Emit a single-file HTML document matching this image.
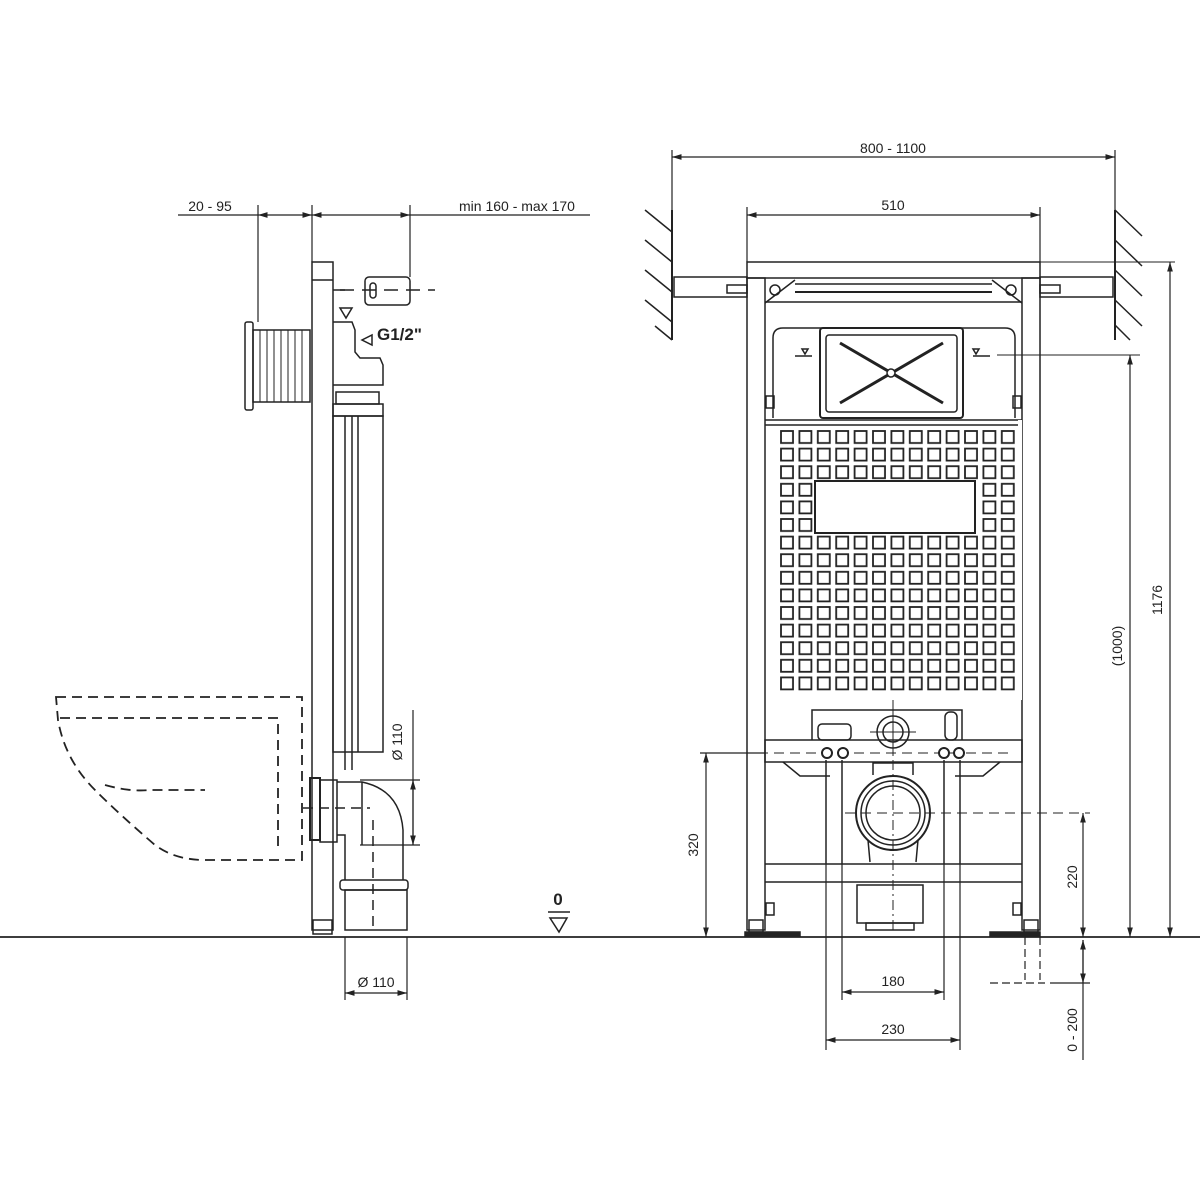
<!DOCTYPE html>
<html><head><meta charset="utf-8"><style>body{margin:0;background:#fff}svg{display:block}</style></head>
<body>
<svg width="1200" height="1200" viewBox="0 0 1200 1200" xmlns="http://www.w3.org/2000/svg" font-family="Liberation Sans, sans-serif" fill="none" stroke="#222" stroke-width="1.5">
<defs>
<pattern id="sq" x="780" y="430" width="18.4" height="17.6" patternUnits="userSpaceOnUse">
<rect x="1" y="1" width="12" height="12" stroke="#222" stroke-width="1.8" fill="none"/>
</pattern>
<marker id="a" viewBox="0 0 10 10" refX="10" refY="5" markerWidth="8" markerHeight="8" orient="auto-start-reverse"><path d="M0,2 L10,5 L0,8" fill="#222" stroke="none"/></marker>
</defs>
<line x1="0" y1="937" x2="1200" y2="937" stroke-width="1.8"/>

<g stroke-width="1.2">
<line x1="258" y1="205" x2="258" y2="322"/><line x1="312" y1="205" x2="312" y2="262"/><line x1="410" y1="205" x2="410" y2="277"/>
<line x1="178" y1="215" x2="258" y2="215"/><line x1="258" y1="215" x2="312" y2="215" marker-start="url(#a)" marker-end="url(#a)"/>
<line x1="312" y1="215" x2="410" y2="215" marker-start="url(#a)" marker-end="url(#a)"/><line x1="410" y1="215" x2="590" y2="215"/>
</g>
<text x="210" y="211" font-size="14" fill="#222" stroke="none" text-anchor="middle">20 - 95</text>
<text x="517" y="211" font-size="14" fill="#222" stroke="none" text-anchor="middle">min 160 - max 170</text>
<rect x="312" y="262" width="21" height="668"/>
<line x1="312" y1="280" x2="333" y2="280"/>
<rect x="313" y="920" width="19" height="14"/>
<line x1="333" y1="290" x2="345" y2="290"/>
<rect x="365" y="277" width="45" height="28" rx="4"/>
<rect x="370" y="283" width="6" height="15" rx="3"/>
<line x1="340" y1="290" x2="435" y2="290" stroke-dasharray="14 8"/>
<path d="M340,308 L352,308 L346,318 Z"/>
<text x="377" y="340" font-size="17" font-weight="bold" fill="#222" stroke="none">G1/2"</text>
<path d="M372,335 L372,345 L362,340 Z"/>
<path d="M333,322 L352,322 L355,330 L355,352 L360,358 L380,358 L383,365 L383,385 L333,385"/>
<rect x="336" y="392" width="43" height="12"/><rect x="333" y="404" width="50" height="12"/>
<rect x="333" y="416" width="50" height="336"/>
<line x1="345" y1="416" x2="345" y2="752"/><line x1="352" y1="416" x2="352" y2="752"/><line x1="358" y1="416" x2="358" y2="752"/>
<line x1="345" y1="752" x2="345" y2="770"/><line x1="352" y1="752" x2="352" y2="770"/>
<rect x="245" y="322" width="8" height="88" rx="2"/>
<rect x="253" y="330" width="57" height="72"/>
<g stroke-width="1"><line x1="260" y1="330" x2="260" y2="402"/><line x1="267" y1="330" x2="267" y2="402"/><line x1="274" y1="330" x2="274" y2="402"/><line x1="281" y1="330" x2="281" y2="402"/><line x1="288" y1="330" x2="288" y2="402"/><line x1="295" y1="330" x2="295" y2="402"/><line x1="302" y1="330" x2="302" y2="402"/></g>
<g stroke-dasharray="10 6" stroke-width="1.8">
<path d="M56,697 L302,697 L302,860 L205,860 Q175,860 155,845 Q120,815 95,790 Q65,760 58,720 Z"/>
<path d="M60,718 L278,718 L278,848"/>
<path d="M105,785 Q130,792 150,790 L205,790"/>
</g>
<rect x="310" y="778" width="10" height="62" stroke-width="2"/>
<rect x="320" y="780" width="17" height="62"/>
<path d="M337,782 L362,782 Q400,790 403,830 L403,880 M337,835 L345,835 L345,880"/>
<line x1="362" y1="782" x2="362" y2="845"/>
<rect x="340" y="880" width="68" height="10" rx="3"/>
<rect x="345" y="890" width="62" height="40"/>
<line x1="303" y1="808" x2="370" y2="808" stroke-dasharray="10 6"/>
<line x1="373" y1="820" x2="373" y2="930" stroke-dasharray="10 6"/>
<g stroke-width="1.2">
<line x1="360" y1="780" x2="420" y2="780"/><line x1="360" y1="845" x2="420" y2="845"/>
<line x1="413" y1="710" x2="413" y2="845"/>
<line x1="413" y1="780" x2="413" y2="845" marker-start="url(#a)" marker-end="url(#a)"/>
<line x1="345" y1="937" x2="345" y2="1000"/><line x1="407" y1="937" x2="407" y2="1000"/>
<line x1="345" y1="993" x2="407" y2="993" marker-start="url(#a)" marker-end="url(#a)"/>
</g>
<text transform="translate(402,742) rotate(-90)" font-size="14" fill="#222" stroke="none" text-anchor="middle">Ø 110</text>
<text x="376" y="987" font-size="14" fill="#222" stroke="none" text-anchor="middle">Ø 110</text>
<text x="558" y="905" font-size="17" font-weight="bold" fill="#222" stroke="none" text-anchor="middle">0</text>
<line x1="548" y1="912" x2="570" y2="912"/>
<path d="M550,918 L567,918 L559,932 Z"/>

<g stroke-width="1.2">
<line x1="672" y1="150" x2="672" y2="275"/><line x1="1115" y1="150" x2="1115" y2="275"/>
<line x1="672" y1="157" x2="1115" y2="157" marker-start="url(#a)" marker-end="url(#a)"/>
<line x1="747" y1="207" x2="747" y2="262"/><line x1="1040" y1="207" x2="1040" y2="262"/>
<line x1="747" y1="215" x2="1040" y2="215" marker-start="url(#a)" marker-end="url(#a)"/>
</g>
<text x="893" y="153" font-size="14" fill="#222" stroke="none" text-anchor="middle">800 - 1100</text>
<text x="893" y="210" font-size="14" fill="#222" stroke="none" text-anchor="middle">510</text>
<line x1="672" y1="210" x2="672" y2="340" stroke-width="2"/>
<line x1="1115" y1="210" x2="1115" y2="340" stroke-width="2"/>
<g stroke-width="1.5">
<line x1="672" y1="232" x2="645" y2="210"/><line x1="672" y1="262" x2="645" y2="240"/><line x1="672" y1="292" x2="645" y2="270"/><line x1="672" y1="322" x2="645" y2="300"/><line x1="672" y1="340" x2="655" y2="326"/>
<line x1="1115" y1="210" x2="1142" y2="236"/><line x1="1115" y1="240" x2="1142" y2="266"/><line x1="1115" y1="270" x2="1142" y2="296"/><line x1="1115" y1="300" x2="1142" y2="326"/><line x1="1115" y1="325" x2="1130" y2="340"/>
</g>
<rect x="674" y="277" width="73" height="20"/><rect x="727" y="285" width="20" height="8"/>
<rect x="1040" y="277" width="73" height="20"/><rect x="1040" y="285" width="20" height="8"/>
<rect x="747" y="262" width="293" height="16"/>
<rect x="747" y="278" width="18" height="652"/><rect x="1022" y="278" width="18" height="652"/>
<rect x="749" y="920" width="14" height="12"/><rect x="1024" y="920" width="14" height="12"/>
<rect x="745" y="932" width="55" height="4" fill="#222"/><rect x="990" y="932" width="50" height="4" fill="#222"/>
<line x1="765" y1="302" x2="1022" y2="302"/>
<path d="M765,303 L795,280 M1022,303 L992,280"/>
<line x1="795" y1="284" x2="992" y2="284"/><line x1="795" y1="292" x2="992" y2="292" stroke-width="2"/>
<circle cx="775" cy="290" r="5"/><circle cx="1011" cy="290" r="5"/>
<line x1="1040" y1="262" x2="1175" y2="262" stroke-width="1"/>
<path d="M773,418 L773,338 Q773,328 783,328 L1005,328 Q1015,328 1015,338 L1015,418"/>
<rect x="820" y="328" width="143" height="90" rx="3" stroke-width="2"/>
<rect x="826" y="335" width="131" height="77" rx="3"/>
<path d="M840,343 L943,403 M943,343 L840,403" stroke-width="3"/>
<circle cx="891" cy="373" r="4" fill="#fff"/>
<path d="M795,356 L812,356 M802,349 L808,349 L805,354 Z"/>
<path d="M973,349 L979,349 L976,354 Z M973,356 L990,356"/>
<line x1="997" y1="355" x2="1140" y2="355" stroke-width="1"/>
<rect x="766" y="396" width="8" height="12"/><rect x="1013" y="396" width="8" height="12"/>
<line x1="765" y1="420" x2="1022" y2="420"/>
<line x1="765" y1="425" x2="1022" y2="425"/>
<rect x="780" y="430" width="240" height="263" fill="url(#sq)" stroke="none"/>
<rect x="1018" y="420" width="4" height="280" fill="#fff" stroke="none"/>
<rect x="813" y="479.5" width="167" height="56" fill="#fff" stroke="none"/>
<rect x="815" y="481" width="160" height="52" stroke-width="2"/>
<path d="M812,740 L812,710 L962,710 L962,740"/>
<rect x="818" y="724" width="33" height="16" rx="4"/>
<rect x="945" y="712" width="12" height="28" rx="5"/>
<circle cx="893" cy="732" r="16"/><circle cx="893" cy="732" r="10"/>
<line x1="870" y1="732" x2="916" y2="732" stroke-width="1"/><line x1="893" y1="705" x2="893" y2="755" stroke-width="1"/>
<rect x="765" y="740" width="257" height="22"/>
<path d="M783,762 L800,776 L830,776 M1000,762 L983,776 L955,776"/>
<line x1="710" y1="753" x2="1010" y2="753" stroke-dasharray="10 6" stroke-width="1"/>
<g fill="#fff" stroke-width="2"><circle cx="827" cy="753" r="5"/><circle cx="843" cy="753" r="5"/><circle cx="944" cy="753" r="5"/><circle cx="959" cy="753" r="5"/></g>
<line x1="826" y1="760" x2="826" y2="864"/><line x1="842" y1="760" x2="842" y2="864"/>
<line x1="944" y1="760" x2="944" y2="864"/><line x1="960" y1="760" x2="960" y2="864"/>
<path d="M873,775 L873,763 L913,763 L913,775"/>
<circle cx="893" cy="813" r="37" stroke-width="2"/><circle cx="893" cy="813" r="32"/><circle cx="893" cy="813" r="27"/>
<path d="M868,840 L870,862 M918,840 L916,862"/>
<line x1="765" y1="864" x2="1022" y2="864"/><line x1="765" y1="882" x2="1022" y2="882"/>
<rect x="857" y="885" width="66" height="38"/><rect x="866" y="923" width="48" height="7"/>
<line x1="893" y1="700" x2="893" y2="930" stroke-dasharray="10 4 2 4" stroke-width="1"/>
<line x1="845" y1="813" x2="1090" y2="813" stroke-dasharray="10 6" stroke-width="1"/>
<rect x="766" y="903" width="8" height="12"/><rect x="1013" y="903" width="8" height="12"/>
<g stroke-width="1.2">
<line x1="1170" y1="262" x2="1170" y2="937" marker-start="url(#a)" marker-end="url(#a)"/>
<line x1="1130" y1="355" x2="1130" y2="937" marker-start="url(#a)" marker-end="url(#a)"/>
<line x1="700" y1="753" x2="765" y2="753"/>
<line x1="706" y1="753" x2="706" y2="937" marker-start="url(#a)" marker-end="url(#a)"/>
<line x1="1083" y1="813" x2="1083" y2="937" marker-start="url(#a)" marker-end="url(#a)"/>
<line x1="1083" y1="940" x2="1083" y2="1060"/>
<line x1="1083" y1="940" x2="1083" y2="983" marker-start="url(#a)" marker-end="url(#a)"/>
<line x1="1050" y1="983" x2="1090" y2="983"/>
<line x1="1025" y1="937" x2="1025" y2="980" stroke-dasharray="8 4"/><line x1="1040" y1="937" x2="1040" y2="980" stroke-dasharray="8 4"/>
<line x1="990" y1="983" x2="1045" y2="983" stroke-dasharray="8 4"/>
<line x1="842" y1="864" x2="842" y2="1000"/><line x1="944" y1="864" x2="944" y2="1000"/>
<line x1="842" y1="992" x2="944" y2="992" marker-start="url(#a)" marker-end="url(#a)"/>
<line x1="826" y1="864" x2="826" y2="1050"/><line x1="960" y1="864" x2="960" y2="1050"/>
<line x1="826" y1="1040" x2="960" y2="1040" marker-start="url(#a)" marker-end="url(#a)"/>
</g>
<text transform="translate(1162,600) rotate(-90)" font-size="14" fill="#222" stroke="none" text-anchor="middle">1176</text>
<text transform="translate(1122,646) rotate(-90)" font-size="14" fill="#222" stroke="none" text-anchor="middle">(1000)</text>
<text transform="translate(698,845) rotate(-90)" font-size="14" fill="#222" stroke="none" text-anchor="middle">320</text>
<text transform="translate(1077,877) rotate(-90)" font-size="14" fill="#222" stroke="none" text-anchor="middle">220</text>
<text transform="translate(1077,1030) rotate(-90)" font-size="14" fill="#222" stroke="none" text-anchor="middle">0 - 200</text>
<text x="893" y="986" font-size="14" fill="#222" stroke="none" text-anchor="middle">180</text>
<text x="893" y="1034" font-size="14" fill="#222" stroke="none" text-anchor="middle">230</text>
</svg>
</body></html>
